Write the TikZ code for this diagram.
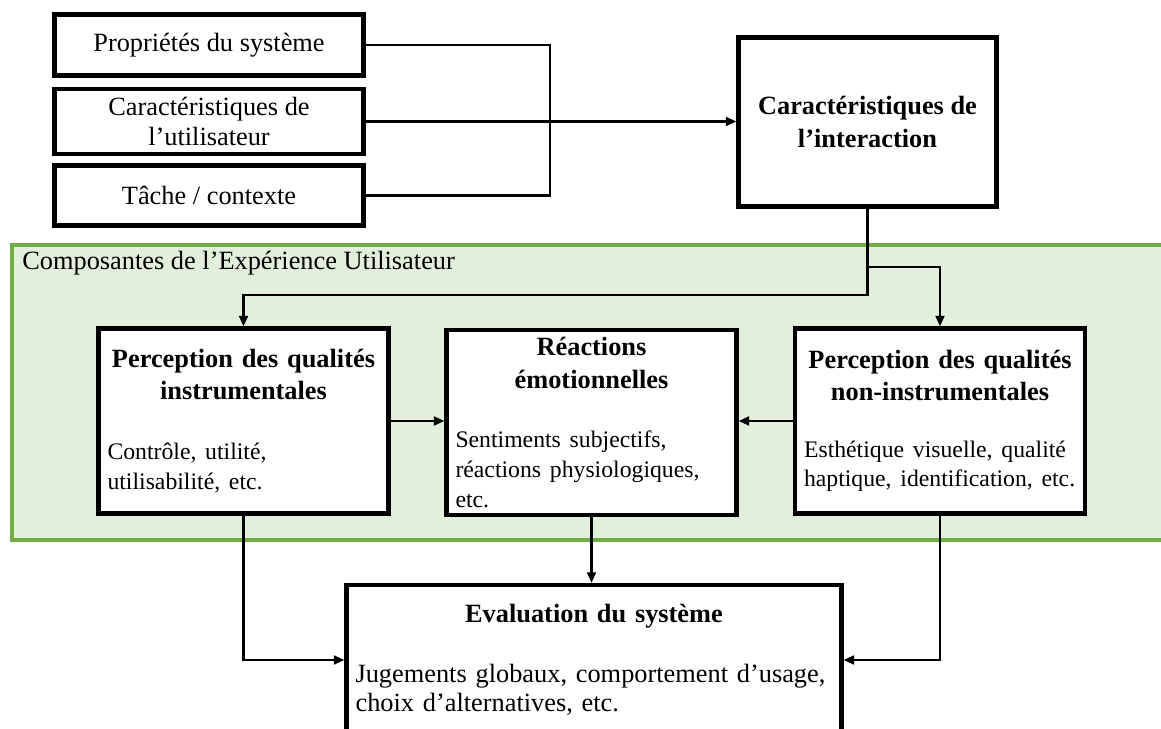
\documentclass[tikz,border=0pt]{standalone}
\usepackage{fontspec}
\setmainfont{Liberation Serif}
\usetikzlibrary{arrows.meta, positioning}
\definecolor{bandfill}{HTML}{E2EFDA}
\definecolor{bandline}{HTML}{70AD47}

\begin{document}
\begin{tikzpicture}[
  x=0.02cm, y=-0.02cm,
  box/.style={rectangle, draw, line width=2.4pt, fill=white, inner xsep=0.18cm, inner ysep=0.1cm, font=\fontsize{15}{17}\selectfont},
  inbox/.style={box, minimum width=6.18cm, align=center},
  quality/.style={box, minimum width=5.8cm, minimum height=3.7cm, text width=5.44cm},
  band/.style={rectangle, draw=bandline, fill=bandfill, line width=2.3pt, minimum width=23.04cm, minimum height=5.9cm},
  line/.style={line width=1.4pt},
  arrow/.style={line, -{Triangle[length=6pt, width=5pt]}}
]
  \useasboundingbox (0,0) rectangle (1161,729);

  % Composantes de l'UX
  \node[band] (ux) at (588,392.5) {};
  \node[anchor=west, inner sep=0pt, font=\fontsize{15}{17}\selectfont] (uxlabel) at (22,263) {Composantes de l’Expérience Utilisateur};

  % Inputs
  \node[inbox, minimum height=1.22cm] (props) at (209,45) {Propriétés du système};
  \node[inbox, minimum height=1.3cm] (user) at (209,121.5) {Caractéristiques de\\l’utilisateur};
  \node[inbox, minimum height=1.2cm] (task) at (209,195.5) {Tâche / contexte};

  % Interaction
  \node[box, align=center, font=\fontsize{15}{18.5}\selectfont\bfseries, minimum width=5.16cm, minimum height=3.38cm] (inter) at (867.5,122) {Caractéristiques de\\l’interaction};

  % Perceptions and emotions
  \node[quality] (instr) at (243.5,421) {{\centering\bfseries\fontsize{15}{18.5}\selectfont Perception des qualités\\instrumentales\par}\vspace{17pt}{\raggedright\fontsize{13.5}{17}\selectfont Contrôle, utilité,\\utilisabilité, etc.\par}};
  \node[quality] (emot) at (591.5,422.5) {{\centering\bfseries\fontsize{15}{18.5}\selectfont Réactions\\émotionnelles\par}\vspace{17pt}{\raggedright\fontsize{13.5}{17}\selectfont Sentiments subjectifs,\\réactions physiologiques,\\etc.\par}};
  \node[quality] (noninstr) at (940,421) {{\centering\bfseries\fontsize{15}{18.5}\selectfont Perception des qualités\\non-instrumentales\par}\vspace{15pt}{\raggedright\fontsize{13.5}{17}\selectfont Esthétique visuelle, qualité\\haptique, identification, etc.\par}};

  % Evaluation
  \node[quality, minimum width=9.9cm, minimum height=3cm, text width=9.54cm] (eval) at (594,660) {{\centering\bfseries Evaluation du système\par}\vspace{17pt}{\raggedright Jugements globaux, comportement d’usage,\\choix d’alternatives, etc.\par}};

  % Input flow
  \coordinate (merge) at (550,121.5);
  \draw[line] (props.east) -| (merge);
  \draw[line] (task.east) -| (merge);
  \draw[arrow] (user.east) -- (user.east -| inter.west);

  % Interaction to perceptions
  \coordinate (forkl) at (867.5,295);
  \coordinate (forkr) at (867.5,267);
  \draw[arrow] (inter.south) -- (forkl) -| (instr.north);
  \draw[arrow] (forkr) -| (noninstr.north);

  % Perceptions to emotions
  \draw[arrow] (instr.east) -- (instr.east -| emot.west);
  \draw[arrow] (noninstr.west) -- (noninstr.west -| emot.east);

  % To evaluation
  \draw[arrow] (emot.south) -- (emot.south |- eval.north);
  \draw[arrow] (instr.south) |- (eval.west);
  \draw[arrow] (noninstr.south) |- (eval.east);
\end{tikzpicture}
\end{document}
